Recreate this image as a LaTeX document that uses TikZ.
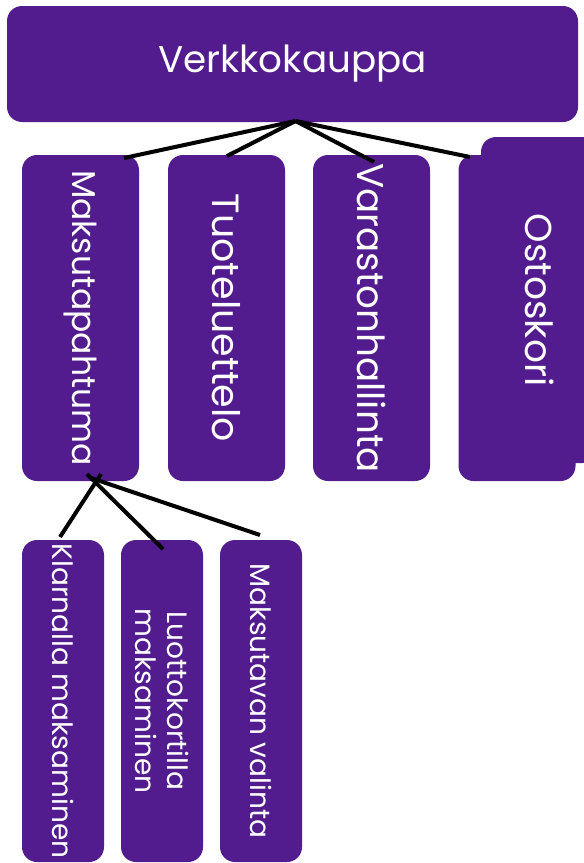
\documentclass[tikz,border=0pt]{standalone}
\usepackage{fontspec}
\setmainfont{Poppins}
\definecolor{boxpurple}{RGB}{82,28,143}
\newcommand{\fsz}[1]{\fontsize{#1}{#1}\selectfont}
\begin{document}
\begin{tikzpicture}[x=1pt,y=-1pt,
  box/.style={fill=boxpurple, rounded corners=15pt, inner sep=0pt, text=white, align=center},
  toplevel/.style={box, minimum width=571pt, minimum height=116pt, font=\fsz{37.3}},
  midbox/.style={box, rotate=-90, minimum width=326pt, minimum height=117pt, font=\fsz{37.5}},
  lowbox/.style={box, rotate=-90, minimum width=322pt, minimum height=82pt, font=\fontsize{28}{32}\selectfont},
  link/.style={draw=black, line width=4pt}]
\useasboundingbox (0,0) rectangle (584,863);

% root
\node[toplevel] (root) at (292.5,64) {Verkkokauppa};

% second level
\node[midbox, font=\fsz{33}] (maksu) at (80.5,318) {Maksutapahtuma};
\node[midbox, font=\fsz{37.9}] (tuote) at (226.5,318) {Tuoteluettelo};
\node[midbox, font=\fsz{37.3}] (varasto) at (371.5,318) {Varastonhallinta};
\node[midbox] (ostosback) at (517,318) {};
\node[midbox] (ostos) at (539.5,300) {Ostoskori};

% third level
\node[lowbox] (klarna) at (63,701) {Klarnalla maksaminen};
\node[lowbox] (luotto) at (162,701) {Luottokortilla\\maksaminen};
\node[lowbox] (valinta) at (261,701) {Maksutavan valinta};

% connector end points
\coordinate (rootjoin) at (295.5,121);
\coordinate (maksutop) at (124,158);
\coordinate (tuotetop) at (227,156);
\coordinate (varastotop) at (374,162);
\coordinate (ostostop) at (470,157);

\coordinate (klarnafrom) at (101,474);
\coordinate (luottofrom) at (87,474);
\coordinate (valintafrom) at (91,478);
\coordinate (klarnatop) at (60,537);
\coordinate (luottotop) at (163,549);
\coordinate (valintatop) at (260,535);

\draw[link] (rootjoin) -- (maksutop);
\draw[link] (rootjoin) -- (tuotetop);
\draw[link] (rootjoin) -- (varastotop);
\draw[link] (rootjoin) -- (ostostop);

\draw[link] (klarnafrom) -- (klarnatop);
\draw[link] (luottofrom) -- (luottotop);
\draw[link] (valintafrom) -- (valintatop);
\end{tikzpicture}
\end{document}
